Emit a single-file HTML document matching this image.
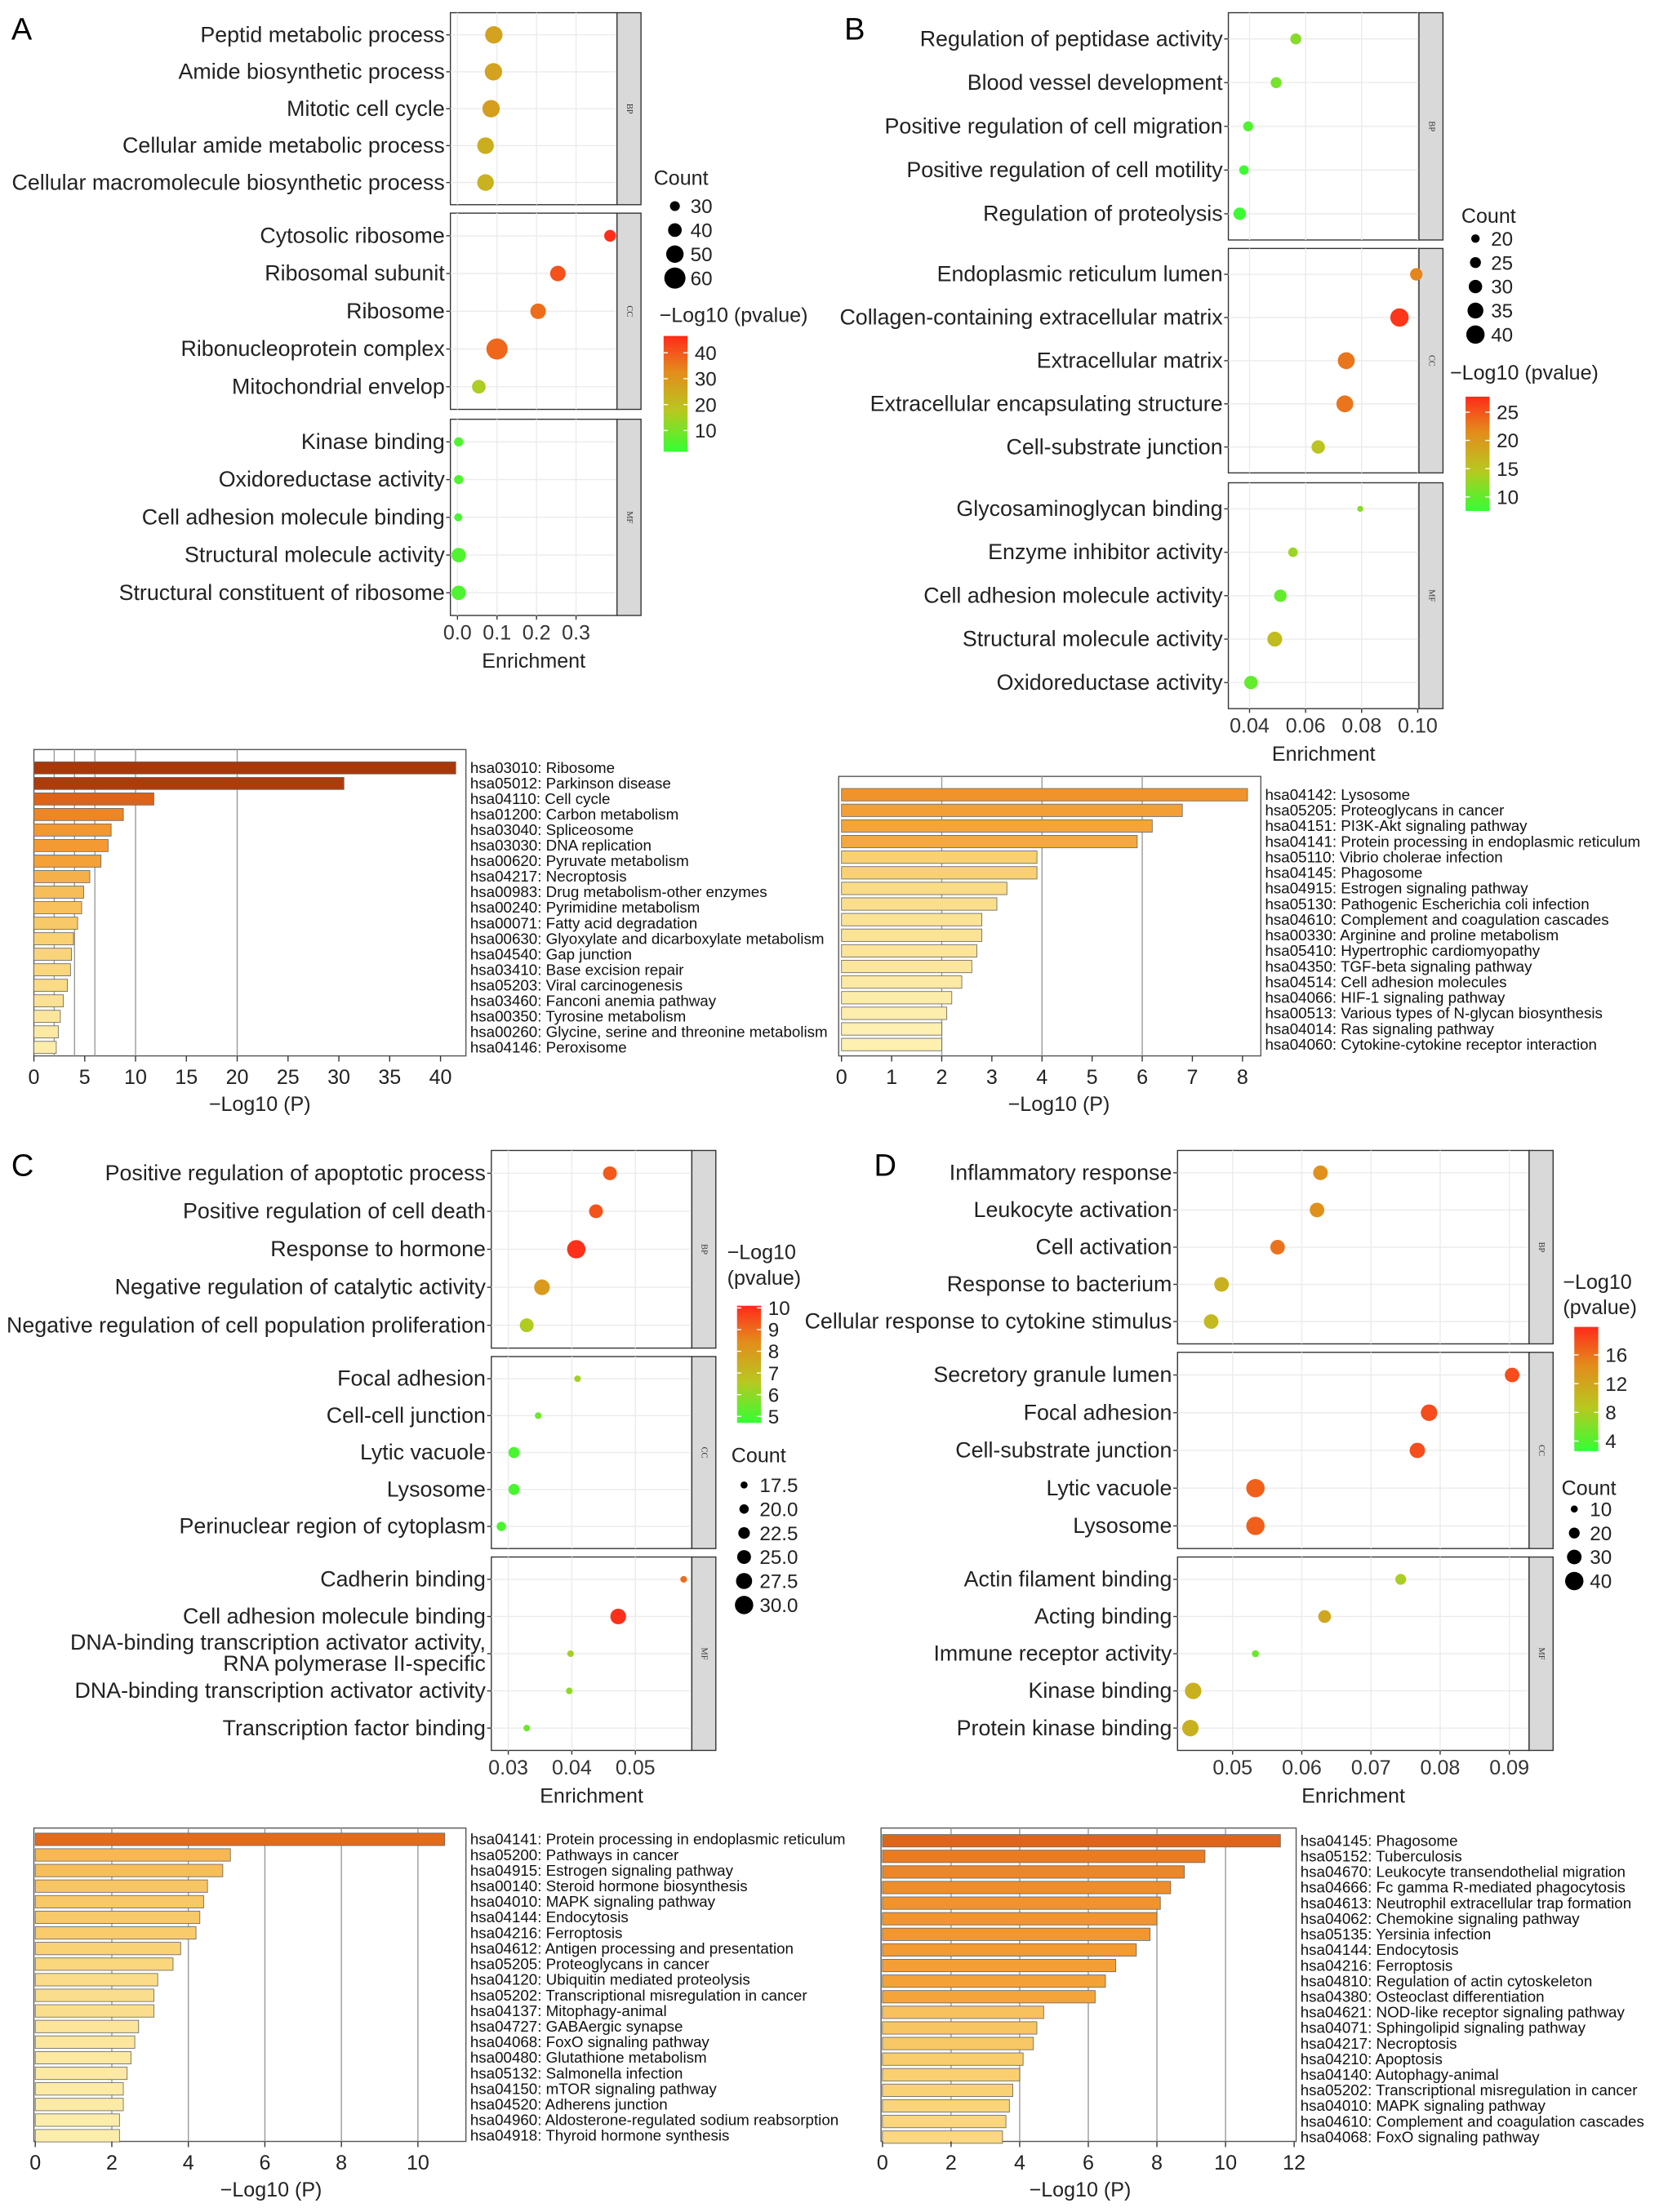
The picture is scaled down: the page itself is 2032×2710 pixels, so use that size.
<!DOCTYPE html>
<html><head><meta charset="utf-8"><style>
html,body{margin:0;padding:0;background:#fff}
svg{display:block;font-family:"Liberation Sans",Arial,sans-serif}
</style></head><body>
<svg id="fig" xmlns="http://www.w3.org/2000/svg" width="2032" height="2710" viewBox="0 0 1175 1567" preserveAspectRatio="none">
<defs>
<linearGradient id="cgrad" x1="0" y1="1" x2="0" y2="0">
<stop offset="0" stop-color="#33ff33"/><stop offset="0.35" stop-color="#b8c820"/><stop offset="0.7" stop-color="#e48a1c"/><stop offset="1" stop-color="#ff2a1a"/>
</linearGradient>
</defs>
<text x="8" y="28" font-size="22">A</text>
<text x="598" y="28" font-size="22">B</text>
<text x="8" y="833" font-size="22">C</text>
<text x="619" y="833" font-size="22">D</text>
</svg>
<script>
// ---------- Panel A dot plot data ----------
const aTerms = ["Peptid metabolic process","Amide biosynthetic process","Mitotic cell cycle","Cellular amide metabolic process","Cellular macromolecule biosynthetic process","Cytosolic ribosome","Ribosomal subunit","Ribosome","Ribonucleoprotein complex","Mitochondrial envelop","Kinase binding","Oxidoreductase activity","Cell adhesion molecule binding","Structural molecule activity","Structural constituent of ribosome"];
const aEnrich = [0.092,0.091,0.085,0.071,0.071,0.386,0.254,0.204,0.100,0.054,0.003,0.003,0.002,0.003,0.003];
const aCount = [50,50,50,48,48,35,45,45,60,40,28,28,25,42,42];
const aLogP = [27,27,28,24,23,46,41,37,38,16,5,5,4,5,5];
const aTicks = [0,0.1,0.2,0.3];
const aTickLabels = ["0.0","0.1","0.2","0.3"];
// ---------- Panel B ----------
const bTerms = ["Regulation of peptidase activity","Blood vessel development","Positive regulation of cell migration","Positive regulation of cell motility","Regulation of proteolysis","Endoplasmic reticulum lumen","Collagen-containing extracellular matrix","Extracellular matrix","Extracellular encapsulating structure","Cell-substrate junction","Glycosaminoglycan binding","Enzyme inhibitor activity","Cell adhesion molecule activity","Structural molecule activity","Oxidoreductase activity"];
const bEnrich = [0.0565,0.0495,0.0395,0.038,0.0365,0.0995,0.0935,0.0745,0.074,0.0645,0.0795,0.0555,0.051,0.049,0.0405];
const bCount = [25,25,23,22,28,28,40,37,37,30,15,22,28,33,30];
const bLogP = [12,11,9,8,8,22,27,23,23,15,12,13,10,16,10];
const bTicks = [0.04,0.06,0.08,0.10];
const bTickLabels = ["0.04","0.06","0.08","0.10"];
// ---------- Panel C ----------
const cTerms = ["Positive regulation of apoptotic process","Positive regulation of cell death","Response to hormone","Negative regulation of catalytic activity","Negative regulation of cell population proliferation","Focal adhesion","Cell-cell junction","Lytic vacuole","Lysosome","Perinuclear region of cytoplasm","Cadherin binding","Cell adhesion molecule binding","DNA-binding transcription activator activity,|RNA polymerase II-specific","DNA-binding transcription activator activity","Transcription factor binding"];
const cEnrich = [0.0460,0.0438,0.0407,0.0353,0.0329,0.0409,0.0347,0.0309,0.0309,0.0289,0.0576,0.0473,0.0398,0.0396,0.0329];
const cCount = [25,25,30,27,25,17,17,22,22,20,17,27,17,17,17];
const cLogP = [9.3,9.4,10,8,6.5,6.3,5.5,5,5,5,9,10,6.3,6,5.5];
const cTicks = [0.03,0.04,0.05];
const cTickLabels = ["0.03","0.04","0.05"];
// ---------- Panel D ----------
const dTerms = ["Inflammatory response","Leukocyte activation","Cell activation","Response to bacterium","Cellular response to cytokine stimulus","Secretory granule lumen","Focal adhesion","Cell-substrate junction","Lytic vacuole","Lysosome","Actin filament binding","Acting binding","Immune receptor activity","Kinase binding","Protein kinase binding"];
const dEnrich = [0.0627,0.0622,0.0565,0.0484,0.0469,0.0904,0.0784,0.0767,0.0533,0.0533,0.0743,0.0633,0.0533,0.0443,0.0439];
const dCount = [30,30,30,30,30,30,35,32,40,40,20,25,10,35,35];
const dLogP = [14,14,16,11,10,18,18,18,17,17,8,12,5,11,11];
const dTicks = [0.05,0.06,0.07,0.08,0.09];
const dTickLabels = ["0.05","0.06","0.07","0.08","0.09"];

// ---------- Bar chart data ----------
const baLabels = ["hsa03010: Ribosome","hsa05012: Parkinson disease","hsa04110: Cell cycle","hsa01200: Carbon metabolism","hsa03040: Spliceosome","hsa03030: DNA replication","hsa00620: Pyruvate metabolism","hsa04217: Necroptosis","hsa00983: Drug metabolism-other enzymes","hsa00240: Pyrimidine metabolism","hsa00071: Fatty acid degradation","hsa00630: Glyoxylate and dicarboxylate metabolism","hsa04540: Gap junction","hsa03410: Base excision repair","hsa05203: Viral carcinogenesis","hsa03460: Fanconi anemia pathway","hsa00350: Tyrosine metabolism","hsa00260: Glycine, serine and threonine metabolism","hsa04146: Peroxisome"];
const baValues = [41.5,30.5,11.8,8.8,7.6,7.3,6.6,5.5,4.9,4.7,4.3,3.9,3.7,3.6,3.3,2.9,2.6,2.4,2.2];
const baTicks = [0,5,10,15,20,25,30,35,40];
const baGrid = [2,4,6,10,20];
const bbLabels = ["hsa04142: Lysosome","hsa05205: Proteoglycans in cancer","hsa04151: PI3K-Akt signaling pathway","hsa04141: Protein processing in endoplasmic reticulum","hsa05110: Vibrio cholerae infection","hsa04145: Phagosome","hsa04915: Estrogen signaling pathway","hsa05130: Pathogenic Escherichia coli infection","hsa04610: Complement and coagulation cascades","hsa00330: Arginine and proline metabolism","hsa05410: Hypertrophic cardiomyopathy","hsa04350: TGF-beta signaling pathway","hsa04514: Cell adhesion molecules","hsa04066: HIF-1 signaling pathway","hsa00513: Various types of N-glycan biosynthesis","hsa04014: Ras signaling pathway","hsa04060: Cytokine-cytokine receptor interaction"];
const bbValues = [8.1,6.8,6.2,5.9,3.9,3.9,3.3,3.1,2.8,2.8,2.7,2.6,2.4,2.2,2.1,2.0,2.0];
const bbTicks = [0,1,2,3,4,5,6,7,8];
const bbGrid = [2,4,6];
const bcLabels = ["hsa04141: Protein processing in endoplasmic reticulum","hsa05200: Pathways in cancer","hsa04915: Estrogen signaling pathway","hsa00140: Steroid hormone biosynthesis","hsa04010: MAPK signaling pathway","hsa04144: Endocytosis","hsa04216: Ferroptosis","hsa04612: Antigen processing and presentation","hsa05205: Proteoglycans in cancer","hsa04120: Ubiquitin mediated proteolysis","hsa05202: Transcriptional misregulation in cancer","hsa04137: Mitophagy-animal","hsa04727: GABAergic synapse","hsa04068: FoxO signaling pathway","hsa00480: Glutathione metabolism","hsa05132: Salmonella infection","hsa04150: mTOR signaling pathway","hsa04520: Adherens junction","hsa04960: Aldosterone-regulated sodium reabsorption","hsa04918: Thyroid hormone synthesis"];
const bcValues = [10.7,5.1,4.9,4.5,4.4,4.3,4.2,3.8,3.6,3.2,3.1,3.1,2.7,2.6,2.5,2.4,2.3,2.3,2.2,2.2];
const bcTicks = [0,2,4,6,8,10];
const bcGrid = [2,4,6,8,10];
const bdLabels = ["hsa04145: Phagosome","hsa05152: Tuberculosis","hsa04670: Leukocyte transendothelial migration","hsa04666: Fc gamma R-mediated phagocytosis","hsa04613: Neutrophil extracellular trap formation","hsa04062: Chemokine signaling pathway","hsa05135: Yersinia infection","hsa04144: Endocytosis","hsa04216: Ferroptosis","hsa04810: Regulation of actin cytoskeleton","hsa04380: Osteoclast differentiation","hsa04621: NOD-like receptor signaling pathway","hsa04071: Sphingolipid signaling pathway","hsa04217: Necroptosis","hsa04210: Apoptosis","hsa04140: Autophagy-animal","hsa05202: Transcriptional misregulation in cancer","hsa04010: MAPK signaling pathway","hsa04610: Complement and coagulation cascades","hsa04068: FoxO signaling pathway"];
const bdValues = [11.6,9.4,8.8,8.4,8.1,8.0,7.8,7.4,6.8,6.5,6.2,4.7,4.5,4.4,4.1,4.0,3.8,3.7,3.6,3.5];
const bdTicks = [0,2,4,6,8,10,12];
const bdGrid = [2,4,6,8,10];

const NS = "http://www.w3.org/2000/svg";
const svg = document.getElementById("fig");
function mk(tag, attrs, parent){const e=document.createElementNS(NS,tag);for(const k in attrs)e.setAttribute(k,attrs[k]);(parent||svg).appendChild(e);return e;}
function hex(c){return [parseInt(c.slice(1,3),16),parseInt(c.slice(3,5),16),parseInt(c.slice(5,7),16)];}
function lerpStops(stops,t){t=Math.max(0,Math.min(1,t));for(let i=1;i<stops.length;i++){if(t<=stops[i][0]){const a=stops[i-1],b=stops[i];const u=(t-a[0])/(b[0]-a[0]);const ca=hex(a[1]),cb=hex(b[1]);return "rgb("+ca.map((v,j)=>Math.round(v+(cb[j]-v)*u)).join(",")+")";}}return stops[stops.length-1][1];}
const dotStops=[[0,"#33ff33"],[0.35,"#b8c820"],[0.7,"#e48a1c"],[1,"#ff2a1a"]];

function dotPlot(p, terms, enrich, counts, logp, ticks, tickLabels){
  const g=mk("g",{});
  
  
  const xs=v=>p.x0+(v-p.v0)*p.k;
  const facets=["BP","CC","MF"];
  p.boxes.forEach((bx,fi)=>{
    const [top,bot]=bx;
    const r=mk("rect",{x:p.left,y:top,width:p.right-p.left,height:bot-top,fill:"#fff",stroke:"#333","stroke-width":0.8},g);
    
    
    ticks.forEach(t=>{mk("line",{x1:xs(t),x2:xs(t),y1:top,y2:bot,stroke:"#ebebeb","stroke-width":0.8},g);});
    const step=(bot-top)/5.2;
    for(let i=0;i<5;i++){const y=top+step*(0.6+i);mk("line",{x1:p.left,x2:p.right,y1:y,y2:y,stroke:"#ebebeb","stroke-width":0.8},g);}
    const s=mk("rect",{x:p.right,y:top,width:17,height:bot-top,fill:"#d9d9d9",stroke:"#333","stroke-width":0.8},g);
    
    
    const st=mk("text",{x:p.right+8.5,y:(top+bot)/2,"font-size":6,"font-family":"Liberation Serif,serif","text-anchor":"middle",fill:"#333",transform:"rotate(90 "+(p.right+8.5)+" "+((top+bot)/2)+")","dominant-baseline":"middle"},g);
    st.textContent=facets[fi];
    for(let i=0;i<5;i++){
      const idx=fi*5+i;const y=top+step*(0.6+i);
      mk("line",{x1:p.left-3,x2:p.left,y1:y,y2:y,stroke:"#333","stroke-width":0.8},g);
      const lines=terms[idx].split("|");
      lines.forEach((ln,li)=>{
        const t=mk("text",{x:p.left-4,y:y+5+(li-(lines.length-1))*15+ (lines.length>1?7:0),"font-size":15.5,"text-anchor":"end",fill:"#222"},g);
        t.textContent=ln;
        
        
      });
      const rad=p.r0+(counts[idx]-p.c0)*(p.r1-p.r0)/(p.c1-p.c0);
      const col=lerpStops(dotStops,(logp[idx]-p.l0)/(p.l1-p.l0));
      const c=mk("circle",{cx:xs(enrich[idx]),cy:y,r:Math.max(1.2,rad),fill:col},g);
      
      
    }
  });
  const bot=p.boxes[2][1];
  ticks.forEach((t,i)=>{
    mk("line",{x1:xs(t),x2:xs(t),y1:bot,y2:bot+3,stroke:"#333","stroke-width":0.8},g);
    const tl=mk("text",{x:xs(t),y:bot+17,"font-size":14.5,"text-anchor":"middle",fill:"#333"},g);
    tl.textContent=tickLabels[i];
    
    
  });
  const xt=mk("text",{x:(p.left+p.right)/2,y:bot+37,"font-size":14.5,"text-anchor":"middle",fill:"#222"},g);
  xt.textContent="Enrichment";
  
  
  const lc=p.legCount;
  const ct=mk("text",{x:lc.x,y:lc.y,"font-size":14.5,fill:"#222"},g);ct.textContent="Count";
  
  
  lc.vals.forEach((v,i)=>{
    const y=lc.y0+i*lc.dy;
    const rad=p.r0+(v-p.c0)*(p.r1-p.r0)/(p.c1-p.c0);
    const c=mk("circle",{cx:lc.cx,cy:y,r:rad,fill:"#000"},g);
    
    
    const t=mk("text",{x:lc.cx+11,y:y+5,"font-size":14,fill:"#222"},g);t.textContent=lc.labels[i];
  });
  const cl=p.legColor;
  cl.title.forEach((ln,i)=>{const t=mk("text",{x:cl.tx,y:cl.ty+i*18,"font-size":14.5,fill:"#222"},g);t.textContent=ln;
    
    });
  const bar=mk("rect",{x:cl.x,y:cl.y0,width:17,height:cl.y1-cl.y0,fill:"url(#cgrad)"},g);
  
  
  cl.vals.forEach((v,i)=>{
    const y=cl.y1-(v-p.l0)/(p.l1-p.l0)*(cl.y1-cl.y0);
    mk("line",{x1:cl.x,x2:cl.x+3,y1:y,y2:y,stroke:"#fff","stroke-width":0.8},g);
    mk("line",{x1:cl.x+14,x2:cl.x+17,y1:y,y2:y,stroke:"#fff","stroke-width":0.8},g);
    const t=mk("text",{x:cl.x+22,y:y+5,"font-size":14,fill:"#222"},g);t.textContent=cl.labels[i];
  });
}

dotPlot({id:"a",left:319,right:437,x0:324,v0:0,k:280,boxes:[[9,145],[151,290],[297,436]],r0:3.5,r1:7.5,c0:30,c1:60,l0:1.8,l1:46.5,
  legCount:{x:463,y:131,cx:478,y0:146,dy:17,vals:[30,40,50,60],labels:["30","40","50","60"]},
  legColor:{title:["\u2212Log10 (pvalue)"],tx:467,ty:228,x:470,y0:238,y1:320,vals:[40,30,20,10],labels:["40","30","20","10"]}},
  aTerms,aEnrich,aCount,aLogP,aTicks,aTickLabels);
dotPlot({id:"b",left:870,right:1005,x0:885,v0:0.04,k:1985,boxes:[[9,170],[176,335],[342,502]],r0:3,r1:6.5,c0:20,c1:40,l0:7.5,l1:27.75,
  legCount:{x:1035,y:158,cx:1045,y0:169,dy:17,vals:[20,25,30,35,40],labels:["20","25","30","35","40"]},
  legColor:{title:["\u2212Log10 (pvalue)"],tx:1027,ty:269,x:1038,y0:281,y1:362,vals:[25,20,15,10],labels:["25","20","15","10"]}},
  bTerms,bEnrich,bCount,bLogP,bTicks,bTickLabels);
dotPlot({id:"c",left:348,right:490,x0:360,v0:0.03,k:4500,boxes:[[815,955],[961,1097],[1103,1240]],r0:2.5,r1:6.5,c0:17.5,c1:30,l0:4.7,l1:10.1,
  legCount:{x:518,y:1036,cx:527,y0:1052,dy:17,vals:[17.5,20,22.5,25,27.5,30],labels:["17.5","20.0","22.5","25.0","27.5","30.0"]},
  legColor:{title:["\u2212Log10","(pvalue)"],tx:515,ty:892,x:522,y0:925,y1:1008,vals:[10,9,8,7,6,5],labels:["10","9","8","7","6","5"]}},
  cTerms,cEnrich,cCount,cLogP,cTicks,cTickLabels);
dotPlot({id:"d",left:834,right:1083,x0:873,v0:0.05,k:4900,boxes:[[815,952],[958,1097],[1103,1240]],r0:2.5,r1:6.5,c0:10,c1:40,l0:2.6,l1:19.9,
  legCount:{x:1106,y:1059,cx:1115,y0:1069,dy:17,vals:[10,20,30,40],labels:["10","20","30","40"]},
  legColor:{title:["\u2212Log10","(pvalue)"],tx:1107,ty:913,x:1115,y0:940,y1:1028,vals:[16,12,8,4],labels:["16","12","8","4"]}},
  dTerms,dEnrich,dCount,dLogP,dTicks,dTickLabels);

const barStops=[[0,"#fff8cc"],[2/41.5,"#fdf0b0"],[4/41.5,"#f9cf70"],[6/41.5,"#f5a63c"],[8/41.5,"#f2952c"],[10/41.5,"#e5701e"],[12/41.5,"#dc6218"],[30/41.5,"#ad3c0c"],[1,"#a8380a"]];
function barChart(p, labels, values, ticks, grid){
  const g=mk("g",{});
  
  
  const xs=v=>p.x0+v*p.k;
  const fr=mk("rect",{x:p.left,y:p.top,width:p.right-p.left,height:p.bot-p.top,fill:"#fff",stroke:"#555","stroke-width":0.8},g);
  
  
  grid.forEach(v=>{mk("line",{x1:xs(v),x2:xs(v),y1:p.top,y2:p.bot,stroke:"#9a9a9a","stroke-width":0.8},g);});
  values.forEach((v,i)=>{
    const y=p.y0+i*p.dy;
    const b=mk("rect",{x:xs(0),y:y-p.bh/2,width:v*p.k,height:p.bh,fill:lerpStops(barStops,v/41.5),stroke:"#6b6b6b","stroke-width":0.5},g);
    
    
    const t=mk("text",{x:p.right+3,y:y+3.6,"font-size":10.85,fill:"#111"},g);
    t.textContent=labels[i];
    
    
  });
  ticks.forEach(v=>{
    mk("line",{x1:xs(v),x2:xs(v),y1:p.bot,y2:p.bot+4,stroke:"#333","stroke-width":0.8},g);
    const t=mk("text",{x:xs(v),y:p.bot+20,"font-size":14.5,"text-anchor":"middle",fill:"#222"},g);
    t.textContent=String(v);
    
    
  });
  const xt=mk("text",{x:p.tx,y:p.bot+39,"font-size":14.5,"text-anchor":"middle",fill:"#222"},g);
  xt.textContent="\u2212Log10 (P)";
  
  
}
barChart({id:"bar-a",left:24,right:330,top:531,bot:748,x0:24,k:7.2,y0:544,dy:11,bh:8.6,tx:184},baLabels,baValues,baTicks,baGrid);
barChart({id:"bar-b",left:594,right:893,top:550,bot:748,x0:596,k:35.5,y0:563,dy:11.06,bh:8.8,tx:750},bbLabels,bbValues,bbTicks,bbGrid);
barChart({id:"bar-c",left:24,right:330,top:1295,bot:1517,x0:25,k:27.1,y0:1303,dy:11.05,bh:8.8,tx:192},bcLabels,bcValues,bcTicks,bcGrid);
barChart({id:"bar-d",left:624,right:918,top:1295,bot:1517,x0:625,k:24.3,y0:1304,dy:11.05,bh:8.8,tx:765},bdLabels,bdValues,bdTicks,bdGrid);
</script>
</body></html>
